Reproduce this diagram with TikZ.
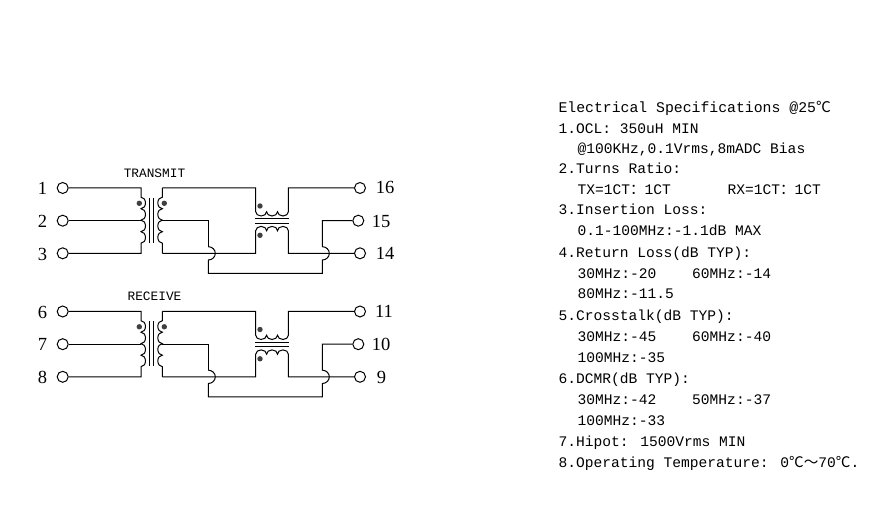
\documentclass[tikz,border=0pt]{standalone}
\usepackage{fontspec}
\newfontfamily\specfont{Liberation Mono}
\newfontfamily\pinfont{Liberation Serif}
\newfontfamily\cjk{Noto Sans CJK SC}
\tikzset{
  pin/.style={circle,draw,inner sep=0pt,minimum size=11pt},
  pinlabel/.style={inner sep=0pt,font=\pinfont\fontsize{18.5}{20}\selectfont},
  title/.style={inner sep=0pt,font=\specfont\fontsize{12.8}{14}\selectfont},
  spec/.style={anchor=base west,inner sep=0pt,font=\specfont\fontsize{14.6}{16}\selectfont},
  humpr/.style={start angle=90,end angle=-90,x radius=4.5pt,y radius=5.75pt},
  humpl/.style={start angle=90,end angle=270,x radius=4.5pt,y radius=5.75pt},
  humpd/.style={start angle=180,end angle=360,x radius=5.45pt,y radius=4.3pt},
  humpu/.style={start angle=180,end angle=0,x radius=5.45pt,y radius=4.3pt},
  jump/.style={start angle=-90,end angle=90,x radius=7pt,y radius=6.65pt},
  dot/.style={circle,fill=black!75,inner sep=0pt,minimum size=5.4pt}
}
\begin{document}
\begin{tikzpicture}[x=1pt,y=1pt,line width=1pt]
\useasboundingbox (0,0) rectangle (878,532);

% both transformer blocks
\foreach \yo/\pa/\pb/\pc/\pd/\pe/\pf/\name/\ld/\lf in {0/1/2/3/16/15/14/TRANSMIT/385/385, -123.5/6/7/8/11/10/9/RECEIVE/384/381.5}{
\begin{scope}[yshift=\yo pt]
\node [title] (t\pa) at (154.5,359) {\name};

\node [pin] (p\pa) at (62.7,344) {};
\node [pin] (p\pb) at (62.7,311.3) {};
\node [pin] (p\pc) at (62.7,278.7) {};
\node [pin] (p\pd) at (360,344) {};
\node [pin] (p\pe) at (358.3,311.3) {};
\node [pin] (p\pf) at (360,278.7) {};

\node [pinlabel] (l\pa) at (42.5,343.5) {\pa};
\node [pinlabel] (l\pb) at (42.5,311) {\pb};
\node [pinlabel] (l\pc) at (42.5,278) {\pc};
\node [pinlabel] (l\pd) at (\ld,344.5) {\pd};
\node [pinlabel] (l\pe) at (381,311) {\pe};
\node [pinlabel] (l\pf) at (\lf,278.5) {\pf};

\coordinate (ca\pa) at (141,334.8);
\coordinate (cb\pa) at (141,311.3);
\coordinate (cc\pa) at (162.3,334.8);
\coordinate (cd\pa) at (162.3,311.3);
\coordinate (st\pa) at (162.3,344);
\coordinate (sb\pa) at (162.3,278.7);
\coordinate (ua\pa) at (255.7,320.3);
\coordinate (ub\pa) at (255.7,301.3);
\coordinate (ja\pa) at (208.3,272);
\coordinate (jb\pa) at (322.3,272);
\coordinate (ra\pa) at (208.3,258.7);
\coordinate (rb\pa) at (322.3,258.7);

% primary
\draw (p\pa) -| (ca\pa) arc[humpr] arc[humpr] arc[humpr] arc[humpr] |- (p\pc);
\draw (p\pb) -- (cb\pa);
\draw (st\pa) -- (cc\pa) arc[humpl] arc[humpl] arc[humpl] arc[humpl] -- (sb\pa);
\draw (149.3,334) -- (149.3,289);
\draw (153.3,334) -- (153.3,289);

% common mode part
\draw (st\pa) -| (ua\pa) arc[humpd] arc[humpd] arc[humpd] |- (p\pd);
\draw (sb\pa) -| (ub\pa) arc[humpu] arc[humpu] arc[humpu] |- (p\pf);
\draw (255,313.3) -- (289,313.3);
\draw (255,308.7) -- (289,308.7);

% crossing wires
\draw (cd\pa) -| (ja\pa |- 0,285.3);
\draw (ja\pa) arc[jump] (ja\pa) -- (ra\pa) -- (rb\pa) -- (jb\pa) arc[jump] |- (p\pe);

\node [dot] (da\pa) at (139.3,328.7) {};
\node [dot] (db\pa) at (164.3,328.7) {};
\node [dot] (dc\pa) at (260,326) {};
\node [dot] (dd\pa) at (260,296.7) {};
\end{scope}
}

% specification text
\node [spec,font=\specfont\fontsize{14.8}{16}\selectfont] (s1) at (558,419.3) {Electrical Specifications @25{\cjk ℃}};
\node [spec] (s2) at (558,398.7) {1.OCL: 350uH MIN};
\node [spec] (s3) at (577,378) {@100KHz,0.1Vrms,8mADC Bias};
\node [spec] (s4) at (558,358) {2.Turns Ratio:};
\node [spec] (s5) at (577,337.7) {TX=1CT{\cjk ：}1CT};
\node [spec] (s5b) at (727,337.7) {RX=1CT{\cjk ：}1CT};
\node [spec] (s6) at (558,317) {3.Insertion Loss:};
\node [spec] (s7) at (577,296.3) {0.1-100MHz:-1.1dB MAX};
\node [spec] (s8) at (558,274.3) {4.Return Loss(dB TYP):};
\node [spec] (s9) at (577,253.7) {30MHz:-20};
\node [spec] (s9b) at (691.7,253.7) {60MHz:-14};
\node [spec] (s10) at (577,233.7) {80MHz:-11.5};
\node [spec] (s11) at (558,211.3) {5.Crosstalk(dB TYP):};
\node [spec] (s12) at (577,190.3) {30MHz:-45};
\node [spec] (s12b) at (691.7,190.3) {60MHz:-40};
\node [spec] (s13) at (577,169.3) {100MHz:-35};
\node [spec] (s14) at (558,148) {6.DCMR(dB TYP):};
\node [spec] (s15) at (577,127) {30MHz:-42};
\node [spec] (s15b) at (691.7,127) {50MHz:-37};
\node [spec] (s16) at (577,106.3) {100MHz:-33};
\node [spec] (s17) at (558,85.3) {7.Hipot: 1500Vrms MIN};
\node [spec] (s18) at (558,64.7) {8.Operating Temperature: 0{\cjk ℃～}70{\cjk ℃}.};

\end{tikzpicture}
\end{document}
